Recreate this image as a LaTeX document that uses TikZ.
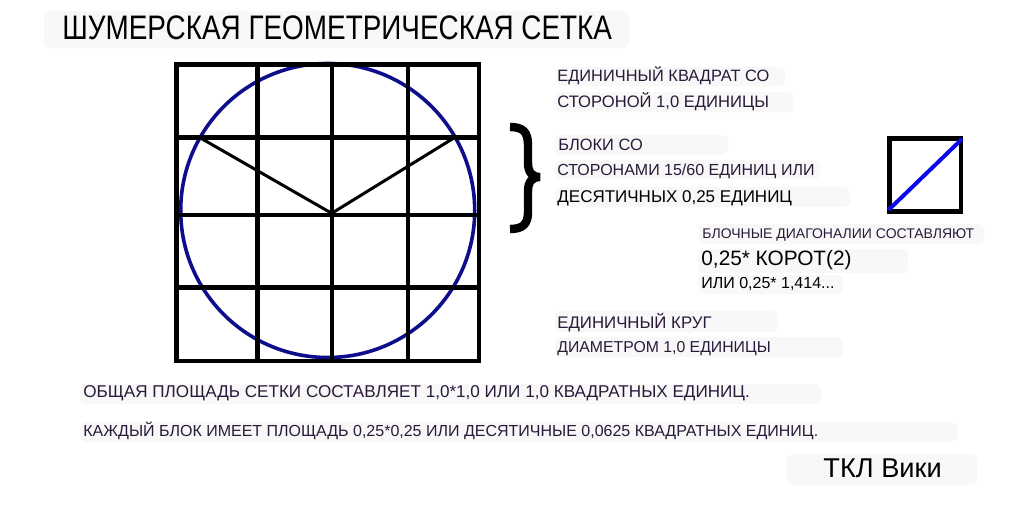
\documentclass[tikz,border=0pt]{standalone}
\usepackage{fontspec}
\setmainfont{Liberation Sans}
\definecolor{labeltext}{RGB}{42,26,58}
\definecolor{labelbg}{RGB}{249,248,248}
\definecolor{circleblue}{RGB}{14,14,140}
\definecolor{diagblue}{RGB}{10,10,235}
\tikzset{
    lbl/.style={anchor=base west,inner sep=0pt,text=labeltext,font=\fontsize{8.2}{10}\selectfont},
    lblbg/.style={fill=labelbg,rounded corners=3pt},
    gridline/.style={line width=2.25pt},
}
\begin{document}
\begin{tikzpicture}[x=0.5pt,y=-0.5pt]
    \useasboundingbox (0,0) rectangle (1013,509);
    %% pale boxes behind the texts
    \foreach \xa/\ya/\xb/\yb in {44/11/629/48,556/67/785/86,554/92/793/112,555/135/728/155,
        555/160/820/179,555/187/850/207,699/224/984/244,698/249/908/273,698/275/843/294,
        555/311/778/332,555/337/843/357,80/384/821/404,80/422/957/442,787/454/977/485}
        \fill[lblbg] (\xa,\ya) rectangle (\xb,\yb);
    %% unit circle
    \draw[circleblue,line width=1.8pt] (327.7,210.5) circle [radius=73.5pt];
    %% grid of 4x4 blocks
    \foreach \x in {257.7,332,407.8}
        \draw[gridline] (\x,64.5) -- (\x,361);
    \foreach \y in {137.5,215,287.7}
        \draw[gridline] (176.5,\y) -- (478.8,\y);
    \draw[gridline] (176.5,64.5) rectangle (478.8,361);
    %% the two chords to the centre
    \coordinate (vleft) at (199.3,137.3);
    \coordinate (vtip) at (331.7,213.3);
    \coordinate (vright) at (455,137.3);
    \draw[line width=1.5pt] (vleft) -- (vtip) -- (vright);
    %% brace
    \draw[line width=4.2pt] (510,127) .. controls (523,127) and (528,132) .. (528,145) -- (528,163)
        .. controls (528,172) and (532,177) .. (540,177) .. controls (532,177) and (528,182) .. (528,191)
        -- (528,212) .. controls (528,224) and (523,229) .. (510,229);
    %% one block with its diagonal
    \draw[gridline] (889.5,138.5) rectangle (961,211.5);
    \draw[diagblue,line width=2pt] (888.5,210) -- (962,139);
    %% texts
    \node[anchor=base west,inner sep=0pt,font=\fontsize{17}{20}\selectfont,xscale=0.82] (title) at (62,39) {ШУМЕРСКАЯ ГЕОМЕТРИЧЕСКАЯ СЕТКА};
    \node[lbl] (sq1) at (557,81) {ЕДИНИЧНЫЙ КВАДРАТ СО};
    \node[lbl,font=\fontsize{8.3}{10}\selectfont] (sq2) at (557,107) {СТОРОНОЙ 1,0 ЕДИНИЦЫ};
    \node[lbl] (blk1) at (558,150) {БЛОКИ СО};
    \node[lbl,font=\fontsize{8}{10}\selectfont] (blk2) at (557,175) {СТОРОНАМИ 15/60 ЕДИНИЦ ИЛИ};
    \node[lbl,text=black,font=\fontsize{8.5}{10}\selectfont] (blk3) at (557,202) {ДЕСЯТИЧНЫХ 0,25 ЕДИНИЦ};
    \node[lbl,font=\fontsize{7}{9}\selectfont] (diag1) at (702,238) {БЛОЧНЫЕ ДИАГОНАЛИИ СОСТАВЛЯЮТ};
    \node[lbl,text=black,font=\fontsize{10.4}{12}\selectfont] (diag2) at (701,265) {0,25* КОРОТ(2)};
    \node[lbl,text=black,font=\fontsize{8}{9}\selectfont] (diag3) at (701,288) {ИЛИ 0,25* 1,414...};
    \node[lbl,font=\fontsize{8.4}{10}\selectfont] (circ1) at (557,328) {ЕДИНИЧНЫЙ КРУГ};
    \node[lbl,font=\fontsize{7.9}{10}\selectfont] (circ2) at (557,352) {ДИАМЕТРОМ 1,0 ЕДИНИЦЫ};
    \node[lbl,font=\fontsize{8.55}{10}\selectfont] (area1) at (83,397) {ОБЩАЯ ПЛОЩАДЬ СЕТКИ СОСТАВЛЯЕТ 1,0*1,0 ИЛИ 1,0 КВАДРАТНЫХ ЕДИНИЦ.};
    \node[lbl,font=\fontsize{8}{10}\selectfont] (area2) at (83,436) {КАЖДЫЙ БЛОК ИМЕЕТ ПЛОЩАДЬ 0,25*0,25 ИЛИ ДЕСЯТИЧНЫЕ 0,0625 КВАДРАТНЫХ ЕДИНИЦ.};
    \node[anchor=base west,inner sep=0pt,font=\fontsize{13.6}{16}\selectfont] (wiki) at (823,477) {ТКЛ Вики};
\end{tikzpicture}
\end{document}
